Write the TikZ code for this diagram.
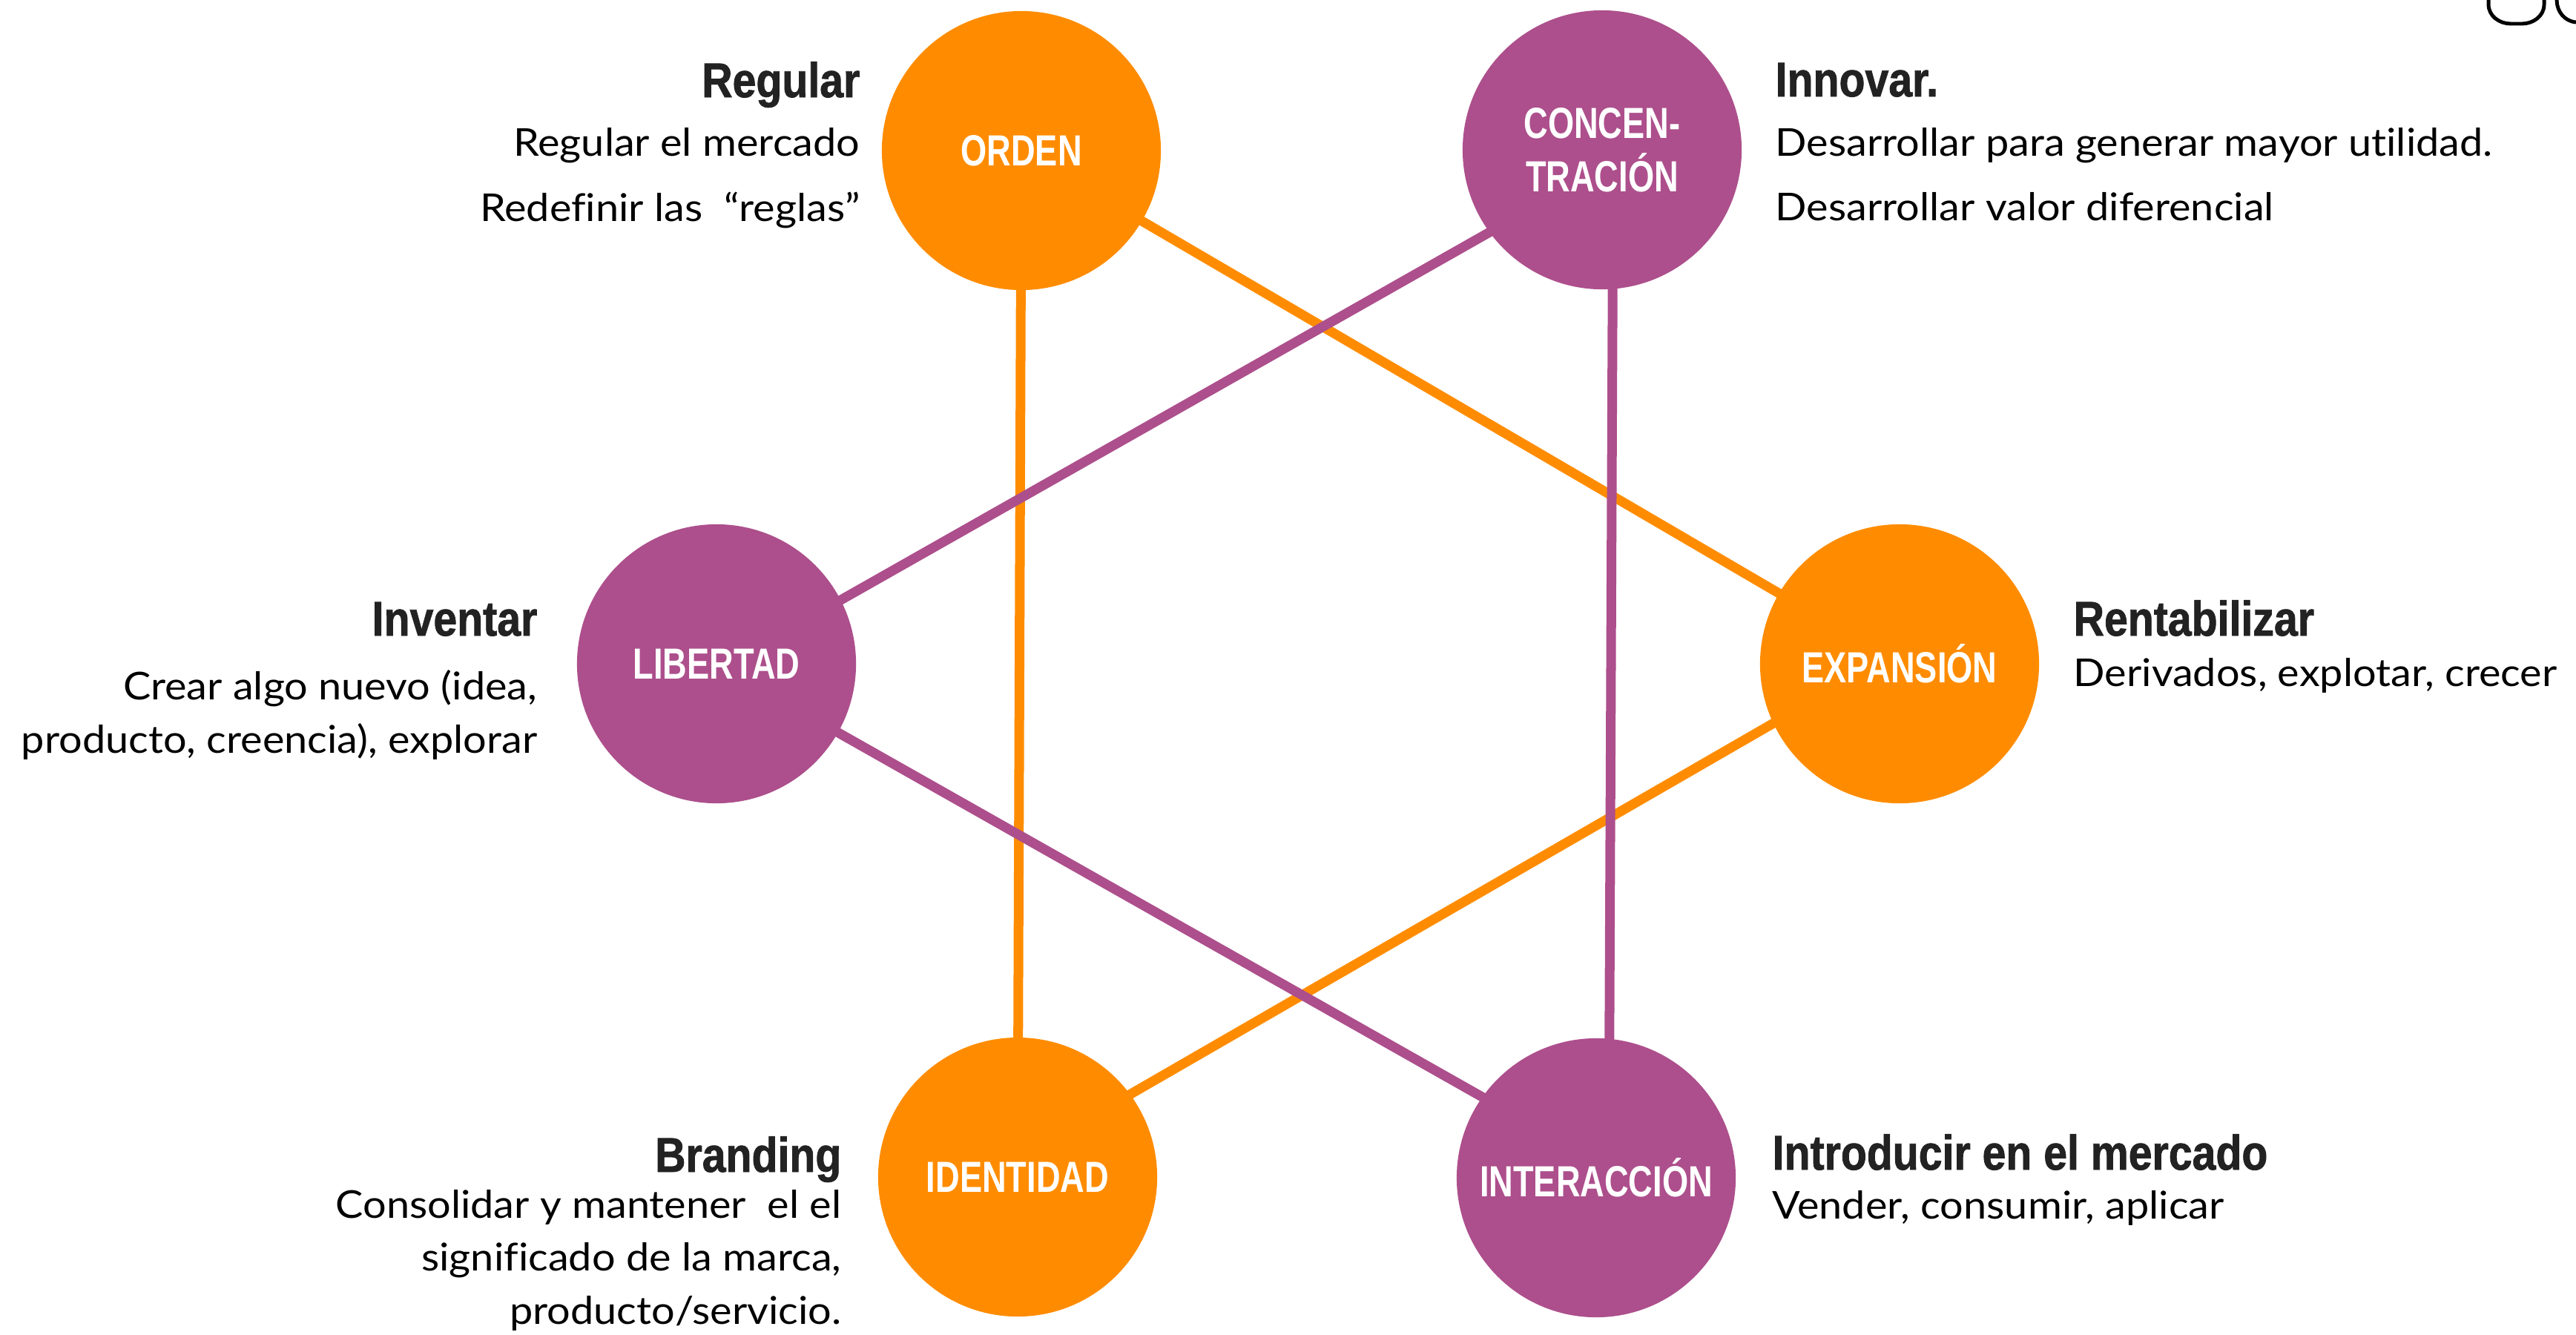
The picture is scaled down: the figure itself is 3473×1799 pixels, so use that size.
\documentclass[tikz,border=0pt]{standalone}
\usepackage{fontspec}
\setmainfont{Lato}[FakeStretch=1.08, Ligatures=NoCommon]
\newfontfamily\headfont[FakeStretch=0.87, FakeBold=1.2]{Liberation Sans}
\newfontfamily\circfont[FakeStretch=0.77]{Liberation Sans}
\usetikzlibrary{calc,backgrounds}
\definecolor{orng}{RGB}{255,140,0}
\definecolor{purp}{RGB}{173,79,140}
\definecolor{headc}{RGB}{34,34,34}
\begin{document}
\begin{tikzpicture}[x=0.01cm,y=-0.01cm,
  circ/.style={circle, minimum size=3.76cm, inner sep=0pt, text=white,
    font=\circfont\bfseries\fontsize{16.7}{20.5}\selectfont, align=center},
  oc/.style={circ, fill=orng},
  pc/.style={circ, fill=purp},
  link/.style={line width=3.7pt},
  head/.style={font=\headfont\bfseries\fontsize{18.7}{22}\selectfont, text=headc, inner sep=0pt},
  body/.style={font=\fontsize{14.7}{18}\selectfont, inner sep=0pt},
]
\useasboundingbox (0,0) rectangle (3473,1799);

% circles
\node[oc] (orden) at (1377,203) {ORDEN};
\node[pc] (conc)  at (2160,202) {CONCEN-\\TRACIÓN};
\node[pc] (lib)   at (966,895)  {LIBERTAD};
\node[oc] (exp)   at (2561,895) {EXPANSIÓN};
\node[oc] (ident) at (1372,1587) {IDENTIDAD};
\node[pc] (inter) at (2152,1588) {INTERACCIÓN};

% connectors
\begin{scope}[on background layer]
  \draw[link, orng] (orden.center) -- (ident.center);
  \draw[link, orng] (orden.center) -- (exp.center);
  \draw[link, orng] ($(exp.center)+(0,-18)$) -- ($(ident.center)+(0,-24)$);
  \draw[link, purp] ($(lib.center)+(0,9)$) -- ($(conc.center)+(0,25)$);
  \draw[link, purp] (lib.center) -- ($(inter.center)+(0,-22)$);
  \draw[link, purp] ($(conc.center)+(15,0)$) -- ($(inter.center)+(17,0)$);
\end{scope}

% Regular block
\node[head, anchor=base east] (regh) at (1160,131) {Regular};
\node[body, anchor=base east] (reg1) at (1160,210) {Regular el mercado};
\node[body, anchor=base east] (reg2) at (1160,298) {Redefinir las~~“reglas”};

% Innovar block
\node[head, anchor=base west] (innh) at (2393,130) {Innovar.};
\node[body, anchor=base west] (inn1) at (2393,210) {Desarrollar para generar mayor utilidad.};
\node[body, anchor=base west] (inn2) at (2393,297) {Desarrollar valor diferencial};

% Inventar block
\node[head, anchor=base east] (invh) at (725,857) {Inventar};
\node[body, anchor=base east] (inv1) at (725,943) {Crear algo nuevo (idea,};
\node[body, anchor=base east] (inv2) at (725,1015) {producto, creencia), explorar};

% Rentabilizar block
\node[head, anchor=base west] (renh) at (2795,857) {Rentabilizar};
\node[body, anchor=base west] (ren1) at (2795,925) {Derivados, explotar, crecer};

% Branding block
\node[head, anchor=base east] (brah) at (1135,1580) {Branding};
\node[body, anchor=base east] (bra1) at (1135,1642) {Consolidar y mantener~~el el};
\node[body, anchor=base east] (bra2) at (1135,1713) {significado de la marca,};
\node[body, anchor=base east] (bra3) at (1135,1785) {producto/servicio.};

% Introducir block
\node[head, anchor=base west] (inth) at (2389,1577) {Introducir en el mercado};
\node[body, anchor=base west] (int1) at (2389,1643) {Vender, consumir, aplicar};

% partial glyph outlines at the top right corner
\draw[line width=1.4pt] (3355,0) -- (3355,6) to[out=-90,in=180] (3385,32) -- (3400,32) to[out=0,in=-90] (3430,6) -- (3430,0);
\draw[line width=1.4pt] (3447,0) to[out=-90,in=175] (3473,30);
\end{tikzpicture}
\end{document}
